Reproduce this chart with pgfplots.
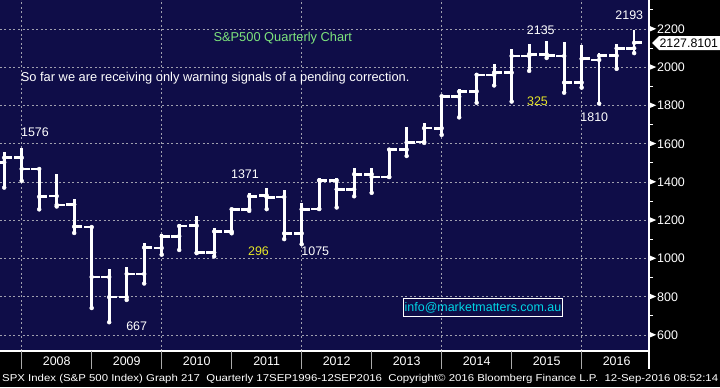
\documentclass[border=0pt]{standalone}
\usepackage{fontspec}
\setmainfont{Liberation Sans}
\usepackage{graphicx}
\usepackage{pgfplots}
\usepackage{pgfplotstable}
\pgfplotsset{compat=1.18}
\definecolor{navy}{RGB}{15,13,72}
\definecolor{gridc}{RGB}{160,160,175}
\definecolor{ttlgreen}{RGB}{125,228,125}
\definecolor{annyellow}{RGB}{230,230,40}
\definecolor{infocyan}{RGB}{0,214,230}
\definecolor{sepgray}{RGB}{170,170,170}

% quarterly OHLC, k = quarter index (0 = Q4 2007, plotted at quarter end)
\pgfplotstableread{
k O H L C
-1 1503.0 1555.9 1370.6 1526.8
0 1527.0 1576.1 1406.1 1468.4
1 1468.0 1471.8 1257.0 1322.7
2 1326.4 1440.2 1272.0 1280.0
3 1282.2 1313.2 1133.5 1166.4
4 1164.2 1167.0 741.0 903.3
5 903.0 943.9 666.8 797.9
6 797.9 956.2 783.3 919.3
7 919.3 1080.2 869.3 1057.1
8 1054.9 1130.4 1020.0 1115.1
9 1116.6 1180.7 1044.5 1169.4
10 1171.2 1219.8 1028.3 1030.7
11 1031.1 1157.2 1010.9 1141.2
12 1141.2 1262.6 1131.9 1257.6
13 1257.6 1344.1 1249.1 1325.8
14 1329.5 1370.6 1258.1 1320.6
15 1321.9 1356.5 1101.5 1131.4
16 1131.2 1292.7 1074.8 1257.6
17 1258.9 1419.2 1258.9 1408.5
18 1408.5 1422.4 1266.7 1362.2
19 1362.3 1474.5 1325.4 1440.7
20 1440.9 1471.0 1343.4 1426.2
21 1426.2 1570.3 1426.2 1569.2
22 1569.2 1687.2 1536.0 1606.3
23 1609.8 1709.7 1604.6 1681.6
24 1681.2 1849.4 1646.5 1848.4
25 1845.9 1884.0 1737.9 1872.3
26 1874.0 1968.2 1814.4 1960.2
27 1960.2 2019.3 1904.8 1972.3
28 1971.4 2093.6 1820.7 2058.9
29 2058.9 2119.6 1980.9 2067.9
30 2067.6 2134.7 2048.4 2063.1
31 2058.8 2132.8 1867.0 1920.0
32 1919.7 2116.5 1893.7 2043.9
33 2038.2 2072.2 1810.1 2059.7
34 2060.2 2120.6 1991.7 2098.9
35 2099.3 2193.8 2074.0 2127.8
}\ohlc

\begin{document}
\begin{tikzpicture}[x=1bp,y=1bp]
\useasboundingbox (0,0) rectangle (720,387);
\fill[black] (0,0) rectangle (720,387);
\fill[navy] (0,36) rectangle (649,387);
\begin{axis}[
  at={(0bp,387bp)}, anchor=north west,
  scale only axis, width=649bp, height=351bp,
  xmin=-1.24, xmax=35.85, ymin=516.3, ymax=2351.6,
  axis line style={draw=none},
  /pgf/number format/assume math mode=true,
  /pgf/number format/1000 sep={},
  xtick={2,6,...,34},
  xticklabels={2008,2009,2010,2011,2012,2013,2014,2015,2016},
  x tick label style={anchor=base, yshift=-14.7bp, inner sep=0pt, text=white, font=\fontsize{12.5}{14}\selectfont},
  extra x ticks={0,8,16,24,32},
  extra x tick labels={},
  extra x tick style={grid=major, major tick length=0pt},
  ytick={600,800,...,2200},
  minor ytick={700,900,...,2300},
  ytick pos=right, yticklabel pos=right,
  tick align=outside,
  major tick length=0pt, minor tick length=4bp,
  tick style={white, line width=0.8bp},
  ymajorgrids=true,
  grid style={gridc, line width=0.8bp, dash pattern=on 2bp off 2.5bp},
  yticklabel={\tikz[baseline={(0,-4.5bp)}]\fill[white] (0,3bp)--(7bp,0)--(0,-3bp)--cycle;\hspace{1bp}\pgfmathprintnumber{\tick}},
  y tick label style={anchor=west, inner sep=0pt, xshift=0pt, text=white, font=\fontsize{12.5}{14}\selectfont},
]
% high-low
\addplot[white, only marks, mark=none,
  error bars/.cd, y dir=plus, y explicit, error mark=none,
  error bar style={white, solid, line width=2.7bp}]
  table[x=k, y=L, y error expr=\thisrow{H}-\thisrow{L}] {\ohlc};
% open (left tick)
\addplot[white, only marks, mark=none,
  error bars/.cd, x dir=minus, x fixed=0.46, error mark=none,
  error bar style={white, solid, line width=2.7bp}]
  table[x=k, y=O] {\ohlc};
% close (right tick)
\addplot[white, only marks, mark=none,
  error bars/.cd, x dir=plus, x fixed=0.46, error mark=none,
  error bar style={white, solid, line width=2.7bp}]
  table[x=k, y=C] {\ohlc};
\end{axis}

% frame lines
\draw[white, line width=1.2bp] (0,36) -- (649,36);
\draw[white, line width=1.2bp] (649,18) -- (649,387);
\foreach \i in {0,...,8} {
  \draw[sepgray, line width=0.9bp] ({21.7+70*\i},36) -- ({21.7+70*\i},18);
}

% last price flag
\fill[white] (652,344) -- (659,351) -- (720,351) -- (720,337) -- (659,337) -- cycle;
\node[text=black, font=\fontsize{12.4}{14}\selectfont, inner sep=0pt] at (688.8,344) {2127.8101};

% annotations
\begin{scope}[every node/.style={inner sep=0pt, font=\fontsize{12.5}{14}\selectfont}]
\node[text=ttlgreen, anchor=base, font=\fontsize{12.9}{14}\selectfont] at (282.8,345.3) {S\&P500 Quarterly Chart};
\node[text=white, anchor=base, font=\fontsize{12.9}{14}\selectfont] at (215.2,305.3) {So far we are receiving only warning signals of a pending correction.};
\node[text=white] at (35,255) {1576};
\node[text=white] at (136.7,60.3) {667};
\node[text=white] at (245,212.7) {1371};
\node[text=annyellow] at (258.5,136) {296};
\node[text=white] at (315.3,135.3) {1075};
\node[text=white] at (540.8,356.3) {2135};
\node[text=annyellow] at (537.5,285.3) {325};
\node[text=white] at (594.3,269.7) {1810};
\node[text=white] at (629.3,371.3) {2193};
\draw[white, line width=1bp] (403.3,70.3) rectangle (562.7,88.7);
\node[text=infocyan] at (483,79.5) {info@marketmatters.com.au};
\end{scope}

% footer
\node[anchor=base west, inner sep=0pt, text=white] at (2,5.3) {\resizebox{716bp}{\height}{\fontsize{10}{12}\selectfont SPX Index (S\&P 500 Index) Graph 217\ \ Quarterly 17SEP1996-12SEP2016\ \ Copyright© 2016 Bloomberg Finance L.P.\ \ 12-Sep-2016 08:52:14}};
\end{tikzpicture}
\end{document}
